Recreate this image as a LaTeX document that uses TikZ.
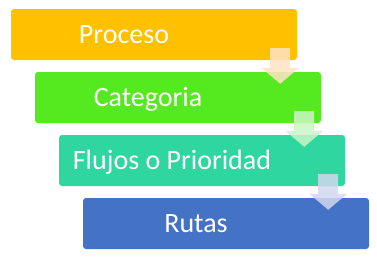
\documentclass[tikz,border=0pt]{standalone}
\usepackage{fontspec}
\setmainfont{Carlito}
\usetikzlibrary{positioning,calc,arrows.meta}
\definecolor{procFill}{HTML}{FFC000}
\definecolor{catFill}{HTML}{55EA1F}
\definecolor{flowFill}{HTML}{30D6A0}
\definecolor{rutaFill}{HTML}{4472C4}
\definecolor{arrowA}{HTML}{FFE3C4}
\definecolor{arrowB}{HTML}{C9F5C9}
\definecolor{arrowC}{HTML}{D0D8EE}
\begin{document}
\begin{tikzpicture}[x=1pt, y=-1pt,
        stair/.style={rounded corners=3pt, minimum width=286pt, minimum height=51pt, inner sep=0pt},
        stair text/.style={text=white, font=\fontsize{28}{34}\selectfont, text height=18pt, text depth=0pt, inner sep=0pt},
        flow/.style={line width=20pt, opacity=0.85, -{Triangle[width=37pt,length=16pt]}}
    ]
    \useasboundingbox (0,0) rectangle (377,257);

    % Step offsets between the boxes
    \def\dx{24}
    \def\dy{63}

    % Draw the boxes of the staircase
    \node[stair, fill=procFill] (proc) at (154, 34.5) {};
    \node[stair, fill=catFill] (cat) at (154+\dx, 34.5+\dy) {};
    \node[stair, fill=flowFill] (flow) at (154+2*\dx, 34.5+2*\dy) {};
    \node[stair, fill=rutaFill] (ruta) at (154+3*\dx, 34.5+3*\dy) {};

    % Texts, set left of the box centre
    \node[stair text] (procText) at ([xshift=-30pt]proc.center) {Proceso};
    \node[stair text] (catText) at ([xshift=-30pt]cat.center) {Categoria};
    \node[stair text] (flowText) at ([xshift=-30pt]flow.center) {Flujos o Prioridad};
    \node[stair text] (rutaText) at ([xshift=-30pt]ruta.center) {Rutas};

    % Draw the arrows from box to box
    \begin{scope}[transparency group, opacity=0.85]
        \draw[flow, opacity=1, arrowA] ([xshift=-17pt, yshift=12pt]proc.south east) -- ([xshift=-41pt, yshift=-12pt]cat.north east);
    \end{scope}
    \begin{scope}[transparency group, opacity=0.85]
        \draw[flow, opacity=1, arrowB] ([xshift=-17pt, yshift=12pt]cat.south east) -- ([xshift=-41pt, yshift=-12pt]flow.north east);
    \end{scope}
    \begin{scope}[transparency group, opacity=0.85]
        \draw[flow, opacity=1, arrowC] ([xshift=-17pt, yshift=12pt]flow.south east) -- ([xshift=-41pt, yshift=-12pt]ruta.north east);
    \end{scope}

\end{tikzpicture}
\end{document}
